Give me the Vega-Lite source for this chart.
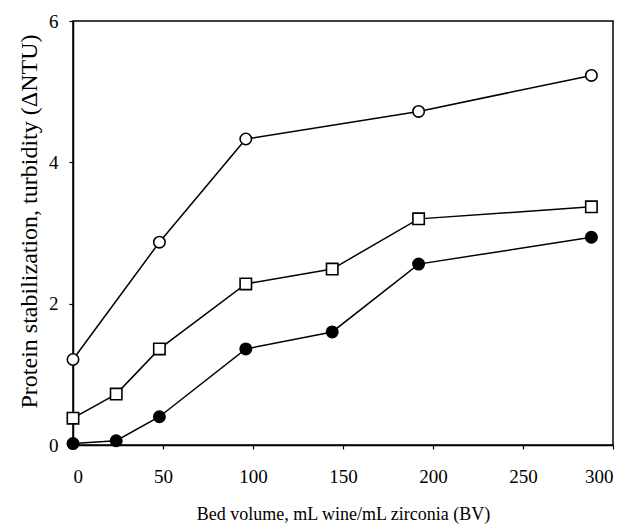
{
  "$schema": "https://vega.github.io/schema/vega-lite/v6.json",
  "width": 540,
  "height": 424,
  "autosize": {"type": "none"},
  "padding": {"left": 73, "top": 21, "right": 16, "bottom": 84},
  "background": "white",
  "config": {
    "view": {"stroke": "black", "strokeWidth": 1.5},
    "font": "Liberation Serif",
    "axis": {
      "domainColor": "black", "domainWidth": 1.5, "tickColor": "black", "tickWidth": 1.2, "tickSize": 4,
      "labelFont": "Liberation Serif", "labelFontSize": 19, "labelColor": "black",
      "titleFont": "Liberation Serif", "titleFontSize": 18, "titleFontWeight": "normal", "titleColor": "black",
      "grid": false
    }
  },
  "data": {"values": [
    {"series": "A", "bv": 0, "ntu": 1.21},
    {"series": "A", "bv": 48, "ntu": 2.87},
    {"series": "A", "bv": 96, "ntu": 4.33},
    {"series": "A", "bv": 192, "ntu": 4.72},
    {"series": "A", "bv": 288, "ntu": 5.23},
    {"series": "B", "bv": 0, "ntu": 0.38},
    {"series": "B", "bv": 24, "ntu": 0.72},
    {"series": "B", "bv": 48, "ntu": 1.36},
    {"series": "B", "bv": 96, "ntu": 2.28},
    {"series": "B", "bv": 144, "ntu": 2.49},
    {"series": "B", "bv": 192, "ntu": 3.2},
    {"series": "B", "bv": 288, "ntu": 3.37},
    {"series": "C", "bv": 0, "ntu": 0.02},
    {"series": "C", "bv": 24, "ntu": 0.06},
    {"series": "C", "bv": 48, "ntu": 0.4},
    {"series": "C", "bv": 96, "ntu": 1.36},
    {"series": "C", "bv": 144, "ntu": 1.6},
    {"series": "C", "bv": 192, "ntu": 2.56},
    {"series": "C", "bv": 288, "ntu": 2.94}
  ]},
  "encoding": {
    "x": {"field": "bv", "type": "quantitative", "scale": {"domain": [0, 300], "nice": false},
      "axis": {"values": [0, 50, 100, 150, 200, 250, 300], "title": "Bed volume, mL wine/mL zirconia (BV)", "labelPadding": 18, "titlePadding": 19}},
    "y": {"field": "ntu", "type": "quantitative", "scale": {"domain": [0, 6], "nice": false},
      "axis": {"values": [0, 2, 4, 6], "title": "Protein stabilization, turbidity (ΔNTU)", "titleFontSize": 24, "titleY": 200, "labelPadding": 11, "titlePadding": 7}}
  },
  "layer": [
    {"mark": {"type": "line", "color": "black", "strokeWidth": 1.5},
     "encoding": {"detail": {"field": "series"}}},
    {"mark": {"type": "point", "filled": true, "size": 130, "stroke": "black", "strokeWidth": 1.6, "opacity": 1},
     "encoding": {
       "shape": {"field": "series", "scale": {"domain": ["A", "B", "C"], "range": ["circle", "square", "circle"]}, "legend": null},
       "fill": {"field": "series", "scale": {"domain": ["A", "B", "C"], "range": ["white", "white", "black"]}, "legend": null}
     }}
  ]
}
